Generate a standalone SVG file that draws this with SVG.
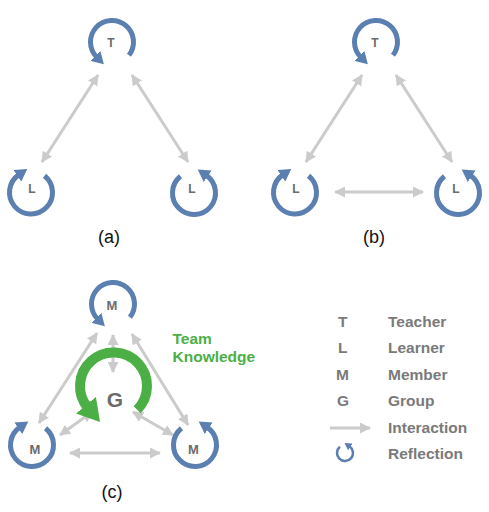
<svg xmlns="http://www.w3.org/2000/svg" width="489" height="512" viewBox="0 0 489 512">
<style>
.refl{fill:none;stroke:#5b7fb1;stroke-width:5;marker-end:url(#mBlue)}
.grp{fill:none;stroke:#4caf46;stroke-width:10;marker-end:url(#mGreen)}
.ar{stroke:#cbcbcb;stroke-width:3;fill:none;marker-start:url(#mGray);marker-end:url(#mGray)}
.nt{font-family:"Liberation Sans",Arial,sans-serif;font-weight:bold;fill:#6b6b6b;text-anchor:middle}
.lg{font-family:"Liberation Sans",Arial,sans-serif;font-weight:bold;fill:#7a7a7a;font-size:15.5px}
.cap{font-family:"Liberation Sans",Arial,sans-serif;fill:#111;font-size:18px;text-anchor:middle}
.tk{font-family:"Liberation Sans",Arial,sans-serif;font-weight:bold;fill:#4caf46;font-size:15.5px}
</style>
<defs>
<marker id="mBlue" markerUnits="userSpaceOnUse" markerWidth="14" markerHeight="14" refX="2" refY="7" orient="auto"><path d="M0,0 L12,7 L0,14 z" fill="#5b7fb1"/></marker>
<marker id="mGreen" markerUnits="userSpaceOnUse" markerWidth="24" markerHeight="26" refX="3" refY="13" orient="auto"><path d="M0,0 L22,13 L0,26 z" fill="#4caf46"/></marker>
<marker id="mSmall" markerUnits="userSpaceOnUse" markerWidth="8" markerHeight="8" refX="1" refY="4" orient="auto"><path d="M0,0 L7,4 L0,8 z" fill="#5b7fb1"/></marker>
<marker id="mGray" markerUnits="userSpaceOnUse" markerWidth="11" markerHeight="11" refX="10" refY="5.5" orient="auto-start-reverse"><path d="M0,0 L11,5.5 L0,11 z" fill="#cbcbcb"/></marker>
</defs>

<g id="connectors">
<line class="ar" x1="98" y1="75" x2="42" y2="162"/>
<line class="ar" x1="132" y1="75" x2="188" y2="162"/>
<line class="ar" x1="362" y1="75" x2="306" y2="162"/>
<line class="ar" x1="396" y1="75" x2="452" y2="162"/>
<line class="ar" x1="335" y1="192" x2="423" y2="192"/>
<line class="ar" x1="97" y1="333" x2="39" y2="423"/>
<line class="ar" x1="132" y1="334" x2="188" y2="425"/>
<line class="ar" x1="113" y1="335" x2="113" y2="372"/>
<line class="ar" x1="92" y1="412" x2="60" y2="435"/>
<line class="ar" x1="133" y1="412" x2="173" y2="435"/>
<line class="ar" x1="70" y1="453" x2="160" y2="453"/>
</g>

<g id="a-teacher">
<path class="refl" d="M128.94,55.24 A21.5,21.5 0 1 0 96.80,57.20"/>
<text class="nt" x="111" y="47" font-size="12">T</text>
</g>
<g id="a-learner-left">
<path class="refl" d="M44.53,175.79 A21.5,21.5 0 1 1 18.98,174.68"/>
<text class="nt" x="32" y="193" font-size="12">L</text>
</g>
<g id="a-learner-right">
<path class="refl" d="M180.47,176.29 A21.5,21.5 0 1 0 206.02,175.18"/>
<text class="nt" x="192" y="193" font-size="12">L</text>
</g>
<text class="cap" x="109" y="243">(a)</text>

<g id="b-teacher">
<path class="refl" d="M392.94,55.24 A21.5,21.5 0 1 0 360.80,57.20"/>
<text class="nt" x="375" y="47" font-size="12">T</text>
</g>
<g id="b-learner-left">
<path class="refl" d="M308.53,175.79 A21.5,21.5 0 1 1 282.98,174.68"/>
<text class="nt" x="296" y="193" font-size="12">L</text>
</g>
<g id="b-learner-right">
<path class="refl" d="M444.47,176.29 A21.5,21.5 0 1 0 470.02,175.18"/>
<text class="nt" x="456" y="193" font-size="12">L</text>
</g>
<text class="cap" x="374" y="243">(b)</text>

<g id="c-member-top">
<path class="refl" d="M129.94,317.24 A21.5,21.5 0 1 0 97.80,319.20"/>
<text class="nt" x="112" y="310" font-size="13">M</text>
</g>
<g id="c-group">
<path class="grp" d="M137.19,409.69 A33.5,33.5 0 1 0 87.84,407.53"/>
<text class="nt" x="115" y="407" font-size="21">G</text>
</g>
<g id="c-member-left">
<path class="refl" d="M45.53,428.29 A21.5,21.5 0 1 1 19.98,427.18"/>
<text class="nt" x="35" y="454" font-size="13">M</text>
</g>
<g id="c-member-right">
<path class="refl" d="M181.47,428.29 A21.5,21.5 0 1 0 207.02,427.18"/>
<text class="nt" x="193.5" y="454" font-size="13">M</text>
</g>
<text class="tk" x="172.5" y="344">Team</text>
<text class="tk" x="172.5" y="362">Knowledge</text>
<text class="cap" x="112" y="498">(c)</text>

<g id="legend">
<text class="lg" x="338" y="327">T</text><text class="lg" x="388" y="327">Teacher</text>
<text class="lg" x="338" y="353">L</text><text class="lg" x="388" y="353">Learner</text>
<text class="lg" x="336" y="379.5">M</text><text class="lg" x="388" y="379.5">Member</text>
<text class="lg" x="337" y="406">G</text><text class="lg" x="388" y="406">Group</text>
<line x1="330" y1="428" x2="370" y2="428" stroke="#cbcbcb" stroke-width="3" marker-end="url(#mGray)"/>
<text class="lg" x="388" y="432.5">Interaction</text>
<path d="M339.97,446.78 A8,8 0 1 0 349.47,446.37" fill="none" stroke="#5b7fb1" stroke-width="2.5" marker-end="url(#mSmall)"/>
<text class="lg" x="388" y="459">Reflection</text>
</g>
</svg>
